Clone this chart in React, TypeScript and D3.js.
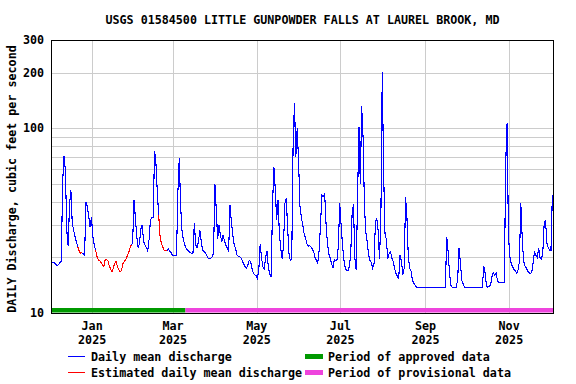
import React from "react";
import * as d3 from "d3";

const title = "USGS 01584500 LITTLE GUNPOWDER FALLS AT LAUREL BROOK, MD";
const yAxisTitle = "DAILY Discharge, cubic feet per second";

// first daily value is for this date; one value per day after it
const firstDay = "2024-12-02";
const discharge: number[] = [
  18.7, 18.7, 18.7, 18.3, 18.0, 18.3, 18.7, 19.0, 51, 71,
  59, 28, 23, 38.6, 46, 30.6, 28, 26, 24.2, 22.9,
  21.7, 21.1, 21.2, 20.9, 20.5, 40, 37.5, 33.5, 29.3, 33,
  26, 23.3, 22, 20.2, 19.4, 19.2, 18.7, 18.2, 17.8, 19.4,
  19.4, 19.2, 18, 17.2, 16.7, 17.6, 18.6, 19, 17.8, 17.1,
  16.7, 17.1, 18.6, 19, 19.4, 20.3, 21.1, 22.4, 23.3, 23.8,
  41, 33, 26, 22.6, 23.8, 28.5, 29.9, 24.5, 23.3, 22.6,
  21.7, 25, 31.9, 33, 33, 75.6, 64.6, 45, 34, 26,
  23.8, 22.7, 21.9, 21.9, 21.7, 22.2, 21.7, 21.2, 20.5, 20.5,
  20.5, 20.5, 45, 68.7, 38, 28, 25, 23.3, 22.4, 21.9,
  21.5, 21.2, 21.0, 21.2, 30.6, 23.3, 22.6, 24.3, 28, 24.5,
  22, 21.5, 21.2, 20.5, 19.8, 19.7, 19.7, 20.2, 21, 50,
  36, 25, 30, 26.4, 24.3, 26.4, 24.5, 23.3, 22.4, 21.5,
  38.4, 31.2, 26.5, 23.6, 22.4, 20.7, 20.3, 20.2, 19.8, 19.2,
  18.4, 17.8, 17.5, 18.2, 19.2, 19, 17.5, 16.5, 16.1, 15.9,
  15.4, 17.1, 23.6, 19.8, 17.8, 17.3, 20.2, 21.5, 17.5, 16.3,
  15.7, 38, 62, 47, 31.9, 41, 27, 22.4, 19.6, 23,
  39, 42, 29, 21, 19.2, 19.5, 81, 136, 70, 100,
  66, 38, 33, 30, 27, 25.5, 23.8, 23, 23.1, 22.8,
  22.2, 21.5, 20, 19.2, 18.6, 22, 30, 43.5, 42.6, 44.4,
  30.6, 24, 21, 19.8, 18.6, 17.5, 19.4, 19.2, 19.4, 23,
  39.2, 30, 23.5, 19.5, 17.5, 16.9, 16.9, 17.8, 20.6, 33.9,
  39, 20, 17.1, 42, 102, 50, 131, 90, 38, 27.5,
  24.3, 20.8, 19.2, 18.8, 17.5, 18.4, 31, 32.5, 28, 19.6,
  33, 202, 58, 27, 25, 19.5, 21, 21.5, 19.8, 19,
  17.4, 16.4, 15.8, 15.4, 20.6, 19, 16.1, 17.5, 42.6, 33,
  20, 17.5, 16.8, 15.1, 14.5, 14.1, 13.8, 13.8, 13.8, 13.8,
  13.8, 13.8, 13.8, 13.8, 13.8, 13.8, 13.8, 13.8, 13.8, 13.8,
  13.8, 13.8, 13.8, 13.8, 13.8, 13.8, 13.8, 13.8, 25.9, 21.5,
  16.5, 14.1, 13.8, 13.8, 13.8, 13.8, 15.3, 22.6, 18.6, 15,
  14.4, 13.8, 13.8, 13.8, 13.8, 13.8, 13.8, 13.8, 13.8, 13.8,
  13.8, 13.8, 13.8, 13.8, 13.8, 18, 16.4, 14, 13.8, 13.9,
  14.2, 15.8, 16.5, 16, 16.5, 15, 14.6, 14.7, 14.6, 14.6,
  14.6, 64.6, 106, 26.4, 20.2, 18.6, 17.8, 17.2, 17, 16.4,
  17.1, 19, 39.2, 26, 19.2, 18, 17.5, 16.9, 16.5, 16.4,
  16.6, 18.7, 21.5, 20.5, 20, 22.4, 20, 19.6, 21, 29.9,
  32, 24, 22.5, 21.9, 21.9, 43.5,
];

// periods of estimated values (inclusive)
const estimatedPeriods: [string, string][] = [
  ["2024-12-21", "2024-12-24"],
  ["2025-01-03", "2025-01-29"],
  ["2025-02-18", "2025-02-24"],
];

const approvedEnd = "2025-03-10";

const xTickDates = ["2025-01-01", "2025-03-01", "2025-05-01", "2025-07-01", "2025-09-01", "2025-11-01"];
const xTickMonths = ["Jan", "Mar", "May", "Jul", "Sep", "Nov"];
const xTickYears = ["2025", "2025", "2025", "2025", "2025", "2025"];

const yTickValues = [10, 100, 200, 300];
const yGridValues = [20, 30, 40, 50, 60, 70, 80, 90, 100, 200];

const legendLines = [
  { label: "Daily mean discharge", color: "#0000ff" },
  { label: "Estimated daily mean discharge", color: "#ff0000" },
];
const legendBars = [
  { label: "Period of approved data", color: "#009900" },
  { label: "Period of provisional data", color: "#ee44dd" },
];

const FONT = "'DejaVu Sans Mono', monospace";
const FS = 11.7;

const parse = (s: string) => new Date(s + "T00:00:00Z");
const DAY = 86400000;

export default function App() {
  const W = 576, H = 384;
  const left = 51, right = 554, top = 40, bottom = 313;

  const start = parse(firstDay);
  const x = d3
    .scaleUtc()
    .domain([start, new Date(start.getTime() + 366.708 * DAY)])
    .range([left, right]);
  const y = d3.scaleLog().domain([10, 300]).range([bottom, top]);

  const points = discharge.map((v, i) => ({
    date: new Date(start.getTime() + i * DAY + DAY / 2),
    day: new Date(start.getTime() + i * DAY),
    v,
  }));

  const line = d3
    .line<{ date: Date; v: number }>()
    .x((d) => x(d.date))
    .y((d) => y(d.v));

  const estPaths = estimatedPeriods.map(([a, b]) => {
    const ta = parse(a).getTime();
    const tb = parse(b).getTime();
    const seg = points.filter((p) => p.day.getTime() >= ta && p.day.getTime() <= tb);
    return line(seg) || "";
  });

  const approvedX = x(parse(approvedEnd));

  return (
    <svg
      width={W}
      height={H}
      style={{ position: "absolute", left: 0, top: 0, background: "#fff" }}
      fontFamily={FONT}
      fontWeight="bold"
      fontSize={FS}
    >
      <rect x={0} y={0} width={W} height={H} fill="#fff" />
      <text x={(left + right) / 2} y={20} dy="0.35em" textAnchor="middle">
        {title}
      </text>

      {/* grid */}
      <g stroke="#cccccc" strokeWidth={1} shapeRendering="crispEdges">
        {yGridValues.map((v) => (
          <line key={v} x1={left} x2={right} y1={Math.round(y(v)) + 0.5} y2={Math.round(y(v)) + 0.5} />
        ))}
        {xTickDates.map((d) => {
          const xx = Math.round(x(parse(d))) + 0.5;
          return <line key={d} x1={xx} x2={xx} y1={top} y2={bottom} />;
        })}
      </g>

      {/* data */}
      <path d={line(points) || ""} fill="none" stroke="#0000ff" strokeWidth={1.1} shapeRendering="crispEdges" />
      {estPaths.map((d, i) => (
        <path key={i} d={d} fill="none" stroke="#ff0000" strokeWidth={1.1} shapeRendering="crispEdges" />
      ))}

      {/* approval bars */}
      <rect x={left} y={308} width={approvedX - left} height={4.5} fill="#009900" />
      <rect x={approvedX} y={308} width={right - approvedX} height={4.5} fill="#ee44dd" />

      {/* frame */}
      <rect
        x={left + 0.5}
        y={top + 0.5}
        width={right - left - 1}
        height={bottom - top}
        fill="none"
        stroke="#000"
        strokeWidth={1}
        shapeRendering="crispEdges"
      />

      {/* y tick labels */}
      {yTickValues.map((v) => (
        <text key={v} x={44} y={y(v)} dy="0.35em" textAnchor="end">
          {v}
        </text>
      ))}
      <text transform={`translate(12,179) rotate(-90)`} dy="0.35em" textAnchor="middle">
        {yAxisTitle}
      </text>

      {/* x tick labels */}
      {xTickDates.map((d, i) => {
        const xx = x(parse(d));
        return (
          <g key={d}>
            <text x={xx} y={326} dy="0.35em" textAnchor="middle">
              {xTickMonths[i]}
            </text>
            <text x={xx} y={339.5} dy="0.35em" textAnchor="middle">
              {xTickYears[i]}
            </text>
          </g>
        );
      })}

      {/* legend */}
      {legendLines.map((l, i) => {
        const yy = 356.5 + i * 16;
        return (
          <g key={l.label}>
            <line x1={68} x2={85} y1={yy} y2={yy} stroke={l.color} strokeWidth={1} shapeRendering="crispEdges" />
            <text x={91} y={yy} dy="0.35em">
              {l.label}
            </text>
          </g>
        );
      })}
      {legendBars.map((l, i) => {
        const yy = 356.5 + i * 16;
        return (
          <g key={l.label}>
            <rect x={305} y={yy - 2.5} width={18} height={5} fill={l.color} />
            <text x={328} y={yy} dy="0.35em">
              {l.label}
            </text>
          </g>
        );
      })}
    </svg>
  );
}
